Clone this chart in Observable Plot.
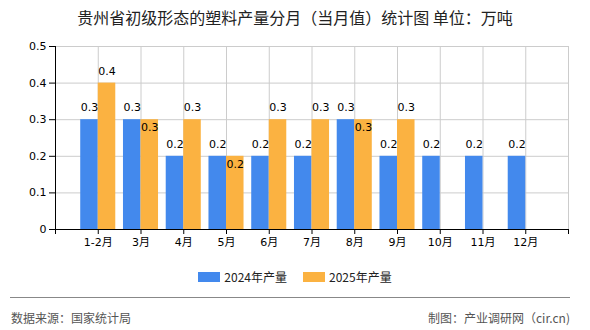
<!DOCTYPE html>
<html>
<head>
<meta charset="utf-8">
<script src="https://cdn.jsdelivr.net/npm/d3@7"></script>
<script src="https://cdn.jsdelivr.net/npm/@observablehq/plot@0.6"></script>
<style>
  html, body { margin: 0; padding: 0; background: #fff; width: 590px; height: 330px; overflow: hidden; }
  body { font-family: "Noto Sans CJK SC", "DejaVu Sans", sans-serif; position: relative; }
  #title { height: 34px; line-height: 34px; text-align: center; font-size: 16px; color: #222; white-space: nowrap; }
  #chart svg { display: block; }
  #legend { position: absolute; top: 268px; left: 0; width: 590px; display: flex; justify-content: center; align-items: center; font-size: 12px; color: #222; }
  .item { display: flex; align-items: center; margin: 0 8px; }
  .sw { width: 22px; height: 10px; margin-right: 4px; }
  #sep { position: absolute; top: 297px; left: 10px; width: 560px; height: 0; border-top: 1.5px solid #888; }
  #foot-l { position: absolute; top: 309px; left: 11px; font-size: 12px; color: #555; }
  #foot-r { position: absolute; top: 309px; right: 20px; font-size: 12px; color: #555; }
</style>
</head>
<body>
<div id="title">贵州省初级形态的塑料产量分月（当月值）统计图 单位：万吨</div>
<div id="chart"></div>
<div id="legend"></div>
<div id="sep"></div>
<div id="foot-l">数据来源：国家统计局</div>
<div id="foot-r">制图：产业调研网（cir.cn)</div>
<script>
const months = ["1-2月", "3月", "4月", "5月", "6月", "7月", "8月", "9月", "10月", "11月", "12月"];
const prod2024 = [0.3, 0.3, 0.2, 0.2, 0.2, 0.2, 0.3, 0.2, 0.2, 0.2, 0.2];
const prod2025 = [0.4, 0.3, 0.3, 0.2, 0.3, 0.3, 0.3, 0.3, null, null, null];
const yTicks = [0, 0.1, 0.2, 0.3, 0.4, 0.5];
const seriesNames = ["2024年产量", "2025年产量"];
const colors = ["#4389ed", "#fbb241"];

const rows = months.map((m, i) => ({i, month: m, v24: prod2024[i], v25: prod2025[i]}));
const rows25 = rows.filter(d => d.v25 != null);
const xTicks = d3.range(-1, months.length + 1);
const half = 0.41;

const chart = Plot.plot({
  width: 590,
  height: 221,
  marginLeft: 55,
  marginRight: 22,
  marginTop: 12,
  marginBottom: 26,
  style: {fontFamily: "'DejaVu Sans','Noto Sans CJK SC',sans-serif", fontSize: "11px", color: "#000", background: "#fff"},
  x: {domain: [-1, months.length], ticks: xTicks, tickFormat: i => months[i] ?? "", tickSize: 5, tickPadding: 4, label: null},
  y: {domain: [0, 0.5], ticks: yTicks, tickFormat: d => String(d), tickSize: 6, tickPadding: 3, label: null},
  marks: [
    Plot.ruleX(xTicks, {stroke: "#cccccc"}),
    Plot.ruleY(yTicks.slice(1), {stroke: "#cccccc"}),
    Plot.rectY(rows, {x1: d => d.i - half, x2: d => d.i, y: "v24", fill: colors[0]}),
    Plot.rectY(rows25, {x1: d => d.i, x2: d => d.i + half, y: "v25", fill: colors[1]}),
    Plot.text(rows, {x: d => d.i - half / 2, y: "v24", text: d => String(d.v24), dy: -12, fill: "#000"}),
    Plot.text(rows25.filter(d => d.v25 > d.v24), {x: d => d.i + half / 2, y: "v25", text: d => String(d.v25), dy: -12, fill: "#000"}),
    Plot.text(rows25.filter(d => d.v25 <= d.v24), {x: d => d.i + half / 2, y: "v25", text: d => String(d.v25), dy: 8, fill: "#000"}),
    Plot.ruleY([0], {stroke: "#000"}),
    Plot.ruleX([-1], {stroke: "#000"})
  ]
});
document.getElementById("chart").appendChild(chart);

const legend = document.getElementById("legend");
seriesNames.forEach((name, k) => {
  const it = document.createElement("div");
  it.className = "item";
  const sw = document.createElement("div");
  sw.className = "sw";
  sw.style.background = colors[k];
  const tx = document.createElement("span");
  tx.textContent = name;
  it.appendChild(sw);
  it.appendChild(tx);
  legend.appendChild(it);
});
</script>
</body>
</html>
